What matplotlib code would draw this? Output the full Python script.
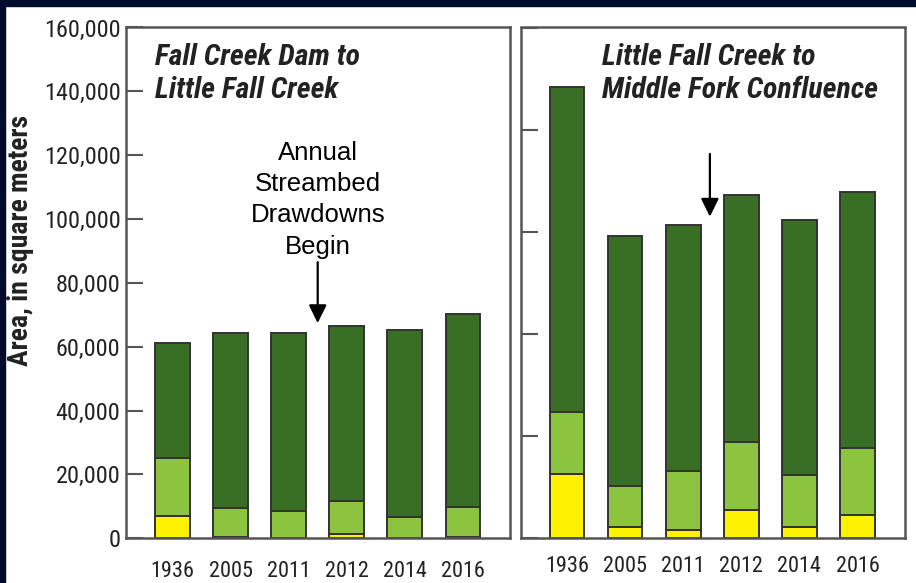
import matplotlib
matplotlib.use("Agg")
import matplotlib.pyplot as plt
import numpy as np
from matplotlib import font_manager

years = ["1936", "2005", "2011", "2012", "2014", "2016"]

# Fall Creek Dam to Little Fall Creek (square meters, stacked)
left_yellow = [6900, 400, 0, 1300, 0, 300]
left_light = [18100, 9200, 8500, 10400, 6700, 9600]
left_dark = [36300, 54800, 55700, 54800, 58500, 60400]

# Little Fall Creek to Middle Fork Confluence (own scale, unlabeled)
right_yellow = [31300, 5400, 3900, 14000, 5700, 11400]
right_light = [30500, 20300, 29100, 33200, 25200, 33000]
right_dark = [159200, 122200, 120100, 120900, 124700, 125300]

left_ticks = np.arange(0, 160001, 20000)
right_ticks = np.arange(0, 250001, 50000)

# pick a condensed sans if one is around
names = {f.name for f in font_manager.fontManager.ttflist}
narrow = "DejaVu Sans"
for cand in ["Roboto Condensed", "Archivo Narrow", "IBM Plex Sans Condensed",
             "Fira Sans Condensed", "Barlow Semi Condensed", "Sofia Sans Condensed"]:
    if cand in names:
        narrow = cand
        break

YELLOW = "#fff200"
LIGHT = "#8cc43f"
DARK = "#396f24"
EDGE = "#333333"
SPINE = "#555555"
TEXT = "#222222"

fig = plt.figure(figsize=(9.16, 5.83), dpi=100)
fig.patch.set_facecolor("white")
# navy frame on top and left
fig.patches.append(plt.Rectangle((0, 1 - 6 / 583), 1, 6 / 583, transform=fig.transFigure,
                                 color="#000a2a", zorder=0))
fig.patches.append(plt.Rectangle((0, 0), 5 / 916, 1, transform=fig.transFigure,
                                 color="#000a2a", zorder=0))

ax1 = fig.add_axes([126 / 916, 44.7 / 583, 384 / 916, 510.8 / 583])
ax2 = fig.add_axes([520.5 / 916, 44.7 / 583, 384 / 916, 510.8 / 583])

x = np.arange(len(years))


def stacked(ax, yellow, light, dark):
    yellow = np.array(yellow)
    light = np.array(light)
    dark = np.array(dark)
    kw = dict(width=0.6, edgecolor=EDGE, linewidth=1.4)
    ax.bar(x, yellow, color=YELLOW, **kw)
    ax.bar(x, light, bottom=yellow, color=LIGHT, **kw)
    ax.bar(x, dark, bottom=yellow + light, color=DARK, **kw)
    ax.set_xlim(-0.8, 5.81)
    ax.set_xticks(x)
    ax.set_xticklabels(years, fontfamily=narrow, fontsize=16, color=TEXT)
    ax.tick_params(axis="x", length=0)
    for s in ax.spines.values():
        s.set_color(SPINE)
        s.set_linewidth(1.8)
    ax.tick_params(axis="y", direction="in", length=12, width=1.5, color=SPINE)


stacked(ax1, left_yellow, left_light, left_dark)
ax1.set_ylim(0, 160000)
ax1.set_yticks(left_ticks)
ax1.set_yticklabels([f"{v:,}" for v in left_ticks], fontfamily=narrow, fontsize=17.5, color=TEXT)
ax1.tick_params(axis="y", pad=4)
ax1.tick_params(axis="x", pad=16)

stacked(ax2, right_yellow, right_light, right_dark)
ax2.set_ylim(0, 250000)
ax2.set_yticks(right_ticks)
ax2.set_yticklabels([])
ax2.tick_params(axis="x", pad=13)

title_kw = dict(fontfamily=narrow, fontsize=21.5, fontweight="heavy", fontstyle="italic",
                color=TEXT, va="baseline", ha="left")
ax1.text(0.0755, 0.9266, "Fall Creek Dam to", transform=ax1.transAxes, **title_kw)
ax1.text(0.0755, 0.862, "Little Fall Creek", transform=ax1.transAxes, **title_kw)
ax2.text(0.211, 0.9266, "Little Fall Creek to", transform=ax2.transAxes, **title_kw)
ax2.text(0.211, 0.862, "Middle Fork Confluence", transform=ax2.transAxes, **title_kw)

ax1.text(2.51, 89200, "Annual\nStreambed\nDrawdowns\nBegin", ha="center", va="baseline",
         fontfamily="Liberation Sans", fontsize=18.5, color="black", multialignment="center",
         linespacing=1.37)

arrow = dict(arrowstyle="-|>,head_length=0.55,head_width=0.27", color="black", lw=1.6,
             mutation_scale=20, shrinkA=0, shrinkB=0)
ax1.annotate("", xy=(2.5, 67400), xytext=(2.5, 86500), arrowprops=arrow)
ax2.annotate("", xy=(2.46, 157400), xytext=(2.46, 188100), arrowprops=arrow)

fig.text(21 / 916, 1 - 240 / 583, "Area, in square meters", rotation=90, ha="center", va="center",
         fontfamily=narrow, fontsize=20, fontweight="bold", color=TEXT)

fig.savefig("out.png", dpi=100)
